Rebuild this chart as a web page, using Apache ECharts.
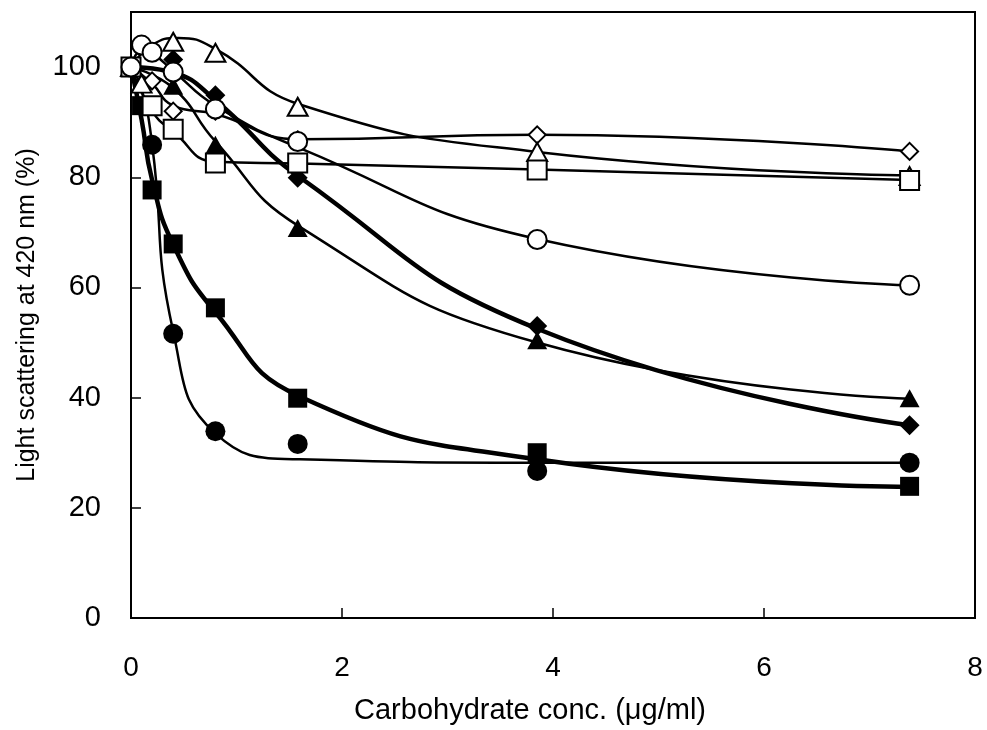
<!DOCTYPE html>
<html>
<head>
<meta charset="utf-8">
<script src="https://cdn.jsdelivr.net/npm/echarts@6/dist/echarts.min.js"></script>
<style>
  html, body { margin: 0; padding: 0; background: #fff; }
  #chart { width: 987px; height: 730px; }
</style>
</head>
<body>
<div id="chart"></div>
<script>
// measured points (x = carbohydrate conc., y = light scattering %)
const openDiamondX = [0, 0.2, 0.4, 0.8, 1.58, 3.85, 7.38];
const openDiamondY = [100, 97.5, 92, 92, 86.8, 87.7, 84.7];
const openTriangleX = [0, 0.1, 0.4, 0.8, 1.58, 3.85, 7.38];
const openTriangleY = [100, 97, 104.6, 102.6, 92.8, 84.6, 80.2];
const openSquareX = [0, 0.2, 0.4, 0.8, 1.58, 3.85, 7.38];
const openSquareY = [100, 93, 88.7, 82.6, 82.6, 81.3, 79.4];
const openCircleX = [0, 0.1, 0.2, 0.4, 0.8, 1.58, 3.85, 7.38];
const openCircleY = [100, 104, 102.7, 99.1, 92.4, 86.5, 68.7, 60.4];
const fillDiamondX = [0, 0.4, 0.8, 1.58, 3.85, 7.38];
const fillDiamondY = [100, 101.4, 94.9, 79.9, 53, 35];
const fillTriangleX = [0, 0.4, 0.8, 1.58, 3.85, 7.38];
const fillTriangleY = [100, 96.6, 85.9, 70.8, 50.4, 39.9];
const fillSquareX = [0, 0.1, 0.2, 0.4, 0.8, 1.58, 3.85, 7.38];
const fillSquareY = [100, 93, 77.7, 67.9, 56.3, 39.9, 30, 23.9];
const fillCircleX = [0, 0.2, 0.4, 0.8, 1.58, 3.85, 7.38];
const fillCircleY = [100, 85.9, 51.6, 33.9, 31.6, 26.7, 28.2];

// fitted curves
const fitOpenDiamondX = [0, 0.2, 0.4, 0.8, 1.6, 3.85, 7.38];
const fitOpenDiamondY = [100, 97, 93, 91.5, 86.9, 87.7, 84.7];
const fitOpenTriangleX = [0, 0.2, 0.45, 0.8, 1.6, 3.85, 7.38];
const fitOpenTriangleY = [100, 104, 105.3, 103.3, 93.2, 84.6, 80.3];
const fitOpenSquareX = [0, 0.2, 0.4, 0.8, 1.6, 3.85, 7.38];
const fitOpenSquareY = [100, 92, 88.3, 82.8, 82.5, 81.4, 79.5];
const fitOpenCircleX = [0, 0.1, 0.2, 0.4, 0.8, 1.6, 3.85, 7.38];
const fitOpenCircleY = [100, 103, 102.5, 99.3, 93, 85.3, 68.8, 60.4];
const fitFillDiamondX = [0, 0.4, 0.8, 1.6, 3.85, 7.38];
const fitFillDiamondY = [100, 99, 94, 80, 52.5, 35];
const fitFillTriangleX = [0, 0.4, 0.8, 1.6, 3.85, 7.38];
const fitFillTriangleY = [100, 96.2, 86.5, 71, 50, 39.8];
const fitFillSquareX = [0, 0.1, 0.2, 0.4, 0.8, 1.6, 3.85, 7.38];
const fitFillSquareY = [100, 90.5, 79.5, 67.8, 55.5, 40.2, 28.8, 23.8];
const fitFillCircleX = [0, 0.1, 0.2, 0.4, 0.8, 1.6, 3.85, 7.38];
const fitFillCircleY = [100, 96, 86, 52, 33.5, 28.8, 28.2, 28.2];

const yTicks = [0, 20, 40, 60, 80, 100];

function pairs(xs, ys) {
  return xs.map((x, i) => [x, ys[i]]);
}

function fit(xs, ys, width) {
  return {
    type: 'line', data: pairs(xs, ys), smooth: 0.5,
    showSymbol: false, silent: true, z: 2,
    lineStyle: { color: '#000', width: width }
  };
}

function marks(xs, ys, symbol, size, open) {
  return {
    type: 'scatter', data: pairs(xs, ys), symbol: symbol, symbolSize: size, z: open ? 4 : 3,
    itemStyle: open
      ? { color: '#fff', borderColor: '#000', borderWidth: 2, opacity: 1 }
      : { color: '#000', opacity: 1 }
  };
}

const chart = echarts.init(document.getElementById('chart'));
chart.setOption({
  animation: false,
  backgroundColor: '#fff',
  textStyle: { fontFamily: 'Liberation Sans, Arial, sans-serif' },
  grid: { left: 131, right: 12, top: 12, bottom: 111, show: true, borderColor: '#000', borderWidth: 2 },
  xAxis: {
    type: 'value', min: 0, max: 8, interval: 2,
    name: 'Carbohydrate conc. (\u03bcg/ml)', nameLocation: 'middle', nameGap: 78,
    nameTextStyle: { fontSize: 29, color: '#000', padding: [0, 46, 0, 0] },
    axisLine: { lineStyle: { color: '#000', width: 2 } },
    axisTick: { inside: true, length: 10, lineStyle: { color: '#000', width: 1.5 } },
    axisLabel: { fontSize: 28, color: '#000', margin: 36 },
    splitLine: { show: false }
  },
  yAxis: {
    type: 'value', min: 0, max: 110, interval: 20,
    name: 'Light scattering at 420 nm (%)', nameLocation: 'middle', nameGap: 91,
    nameTextStyle: { fontSize: 25, color: '#000' },
    axisLine: { lineStyle: { color: '#000', width: 2 } },
    axisTick: { inside: true, length: 10, lineStyle: { color: '#000', width: 1.5 } },
    axisLabel: { fontSize: 29, color: '#000', margin: 30,
      formatter: v => yTicks.includes(v) ? String(v) : '' },
    splitLine: { show: false }
  },
  series: [
    fit(fitOpenDiamondX, fitOpenDiamondY, 2.5),
    fit(fitOpenTriangleX, fitOpenTriangleY, 2.5),
    fit(fitOpenSquareX, fitOpenSquareY, 2.5),
    fit(fitOpenCircleX, fitOpenCircleY, 2.5),
    fit(fitFillDiamondX, fitFillDiamondY, 4.5),
    fit(fitFillTriangleX, fitFillTriangleY, 2.5),
    fit(fitFillSquareX, fitFillSquareY, 4.5),
    fit(fitFillCircleX, fitFillCircleY, 2.5),
    marks(fillDiamondX, fillDiamondY, 'diamond', [20, 20], false),
    marks(fillTriangleX, fillTriangleY, 'triangle', [20, 18], false),
    marks(fillSquareX, fillSquareY, 'rect', [19, 19], false),
    marks(fillCircleX, fillCircleY, 'circle', 20, false),
    marks(openDiamondX, openDiamondY, 'diamond', [17, 17], true),
    marks(openTriangleX, openTriangleY, 'triangle', [20, 18], true),
    marks(openSquareX, openSquareY, 'rect', [19, 19], true),
    marks(openCircleX, openCircleY, 'circle', 19, true)
  ]
});
</script>
</body>
</html>
